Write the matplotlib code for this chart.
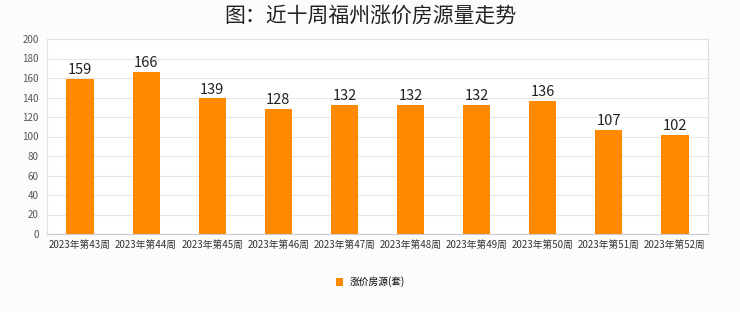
import matplotlib.pyplot as plt
import numpy as np

plt.rcParams['font.family'] = ['Noto Sans CJK SC', 'DejaVu Sans']

weeks = ["2023年第43周", "2023年第44周", "2023年第45周", "2023年第46周", "2023年第47周",
         "2023年第48周", "2023年第49周", "2023年第50周", "2023年第51周", "2023年第52周"]
counts = [159, 166, 139, 128, 132, 132, 132, 136, 107, 102]
yticks = list(range(0, 201, 20))

fig = plt.figure(figsize=(7.4, 3.12), dpi=100, facecolor="#fcfcfc")
ax = fig.add_axes([47/740, 1 - 234/312, 661/740, 195/312])
ax.set_facecolor("white")

x = np.arange(len(weeks))
bars = ax.bar(x, counts, width=0.41, color="#ff8a00", label="涨价房源(套)", zorder=3)
for xi, v in zip(x, counts):
    ax.text(xi, v + 2, str(v), ha="center", va="bottom", fontsize=10.5, color="#222222")

ax.set_xlim(-0.5, len(weeks) - 0.5)
ax.set_ylim(0, 200)
ax.set_yticks(yticks)
ax.set_xticks(x)
ax.set_xticklabels(weeks, fontsize=7, color="#333333")
ax.tick_params(axis="y", labelsize=7, colors="#555555", length=0, pad=6)
ax.tick_params(axis="x", length=0, pad=4)
ax.grid(axis="y", color="#e6e6e6", linewidth=0.8, zorder=0)
for s in ax.spines.values():
    s.set_color("#e0e0e0")
    s.set_linewidth(0.8)
ax.spines["bottom"].set_color("#cccccc")

# title
fig.text(0.5, 1 - 16/312, "图：近十周福州涨价房源量走势", ha="center", va="center",
         fontsize=15, fontweight="medium", color="#222222")

leg = fig.legend(handles=[bars], labels=["涨价房源(套)"], loc="center",
                 bbox_to_anchor=(0.5, 1 - 282/312), frameon=False, fontsize=7,
                 handlelength=0.8, handleheight=0.8, handletextpad=0.6)

fig.savefig("out.png", dpi=100, facecolor=fig.get_facecolor())
